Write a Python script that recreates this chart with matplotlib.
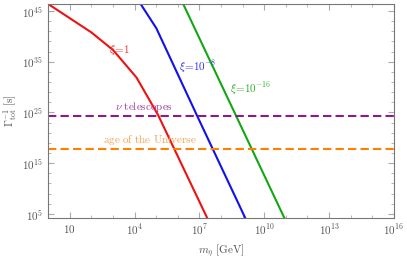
import numpy as np
import matplotlib.pyplot as plt
from matplotlib.ticker import FixedLocator, FixedFormatter

plt.rcParams["mathtext.fontset"] = "cm"
plt.rcParams["font.family"] = "DejaVu Serif"

# log10 of m_eta [GeV] and log10 of inverse width [s]
red_logm = [0.0, 2.0, 3.01, 4.09, 5.09, 7.36]
red_logt = [46.4, 40.8, 37.3, 31.9, 24.5, 4.2]
blue_logm = [4.25, 5.01, 6.9, 9.12]
blue_logt = [46.6, 41.6, 24.3, 4.2]
green_logm = [6.25, 10.93]
green_logt = [46.4, 4.2]

nu_telescopes = 2e24
age_universe = 5e17

gray = "#777777"
fig = plt.figure(figsize=(4.07, 2.61), dpi=100)
ax = fig.add_axes([0.118, 0.165, 0.850, 0.820])

ax.plot(10**np.array(red_logm), 10**np.array(red_logt), color="#ee1111", lw=1.5)
ax.plot(10**np.array(blue_logm), 10**np.array(blue_logt), color="#1111ee", lw=1.5)
ax.plot(10**np.array(green_logm), 10**np.array(green_logt), color="#11a811", lw=1.5)
ax.axhline(nu_telescopes, color="#8b1a8b", lw=1.5, ls=(0, (4, 2)))
ax.axhline(age_universe, color="#ff8000", lw=1.5, ls=(0, (4, 2)))

ax.set_xscale("log")
ax.set_yscale("log")
ax.set_xlim(1, 1e16)
ax.set_ylim(10**4.2, 10**46.4)

xmaj = [10.0**k for k in range(1, 17, 3)]
ax.xaxis.set_major_locator(FixedLocator(xmaj))
ax.xaxis.set_major_formatter(FixedFormatter(["$10$"] + [r"$10^{%d}$" % k for k in range(4, 17, 3)]))
ax.xaxis.set_minor_locator(FixedLocator([10.0**k for k in range(0, 17)]))
ymaj = [10.0**k for k in range(5, 46, 10)]
ax.yaxis.set_major_locator(FixedLocator(ymaj))
ax.yaxis.set_major_formatter(FixedFormatter([r"$10^{%d}$" % k for k in range(5, 46, 10)]))
ax.yaxis.set_minor_locator(FixedLocator([10.0**k for k in range(5, 47, 2)]))
ax.xaxis.set_minor_formatter(FixedFormatter([]))
ax.yaxis.set_minor_formatter(FixedFormatter([]))

ax.tick_params(which="both", direction="in", top=True, right=True, color="#aaaaaa",
               labelcolor="#555555", labelsize=8)
ax.tick_params(which="major", length=4)
ax.tick_params(which="minor", length=2)
for s in ax.spines.values():
    s.set_color(gray)

ax.set_xlabel(r"$m_\eta\ [\mathrm{GeV}]$", color="#555555", fontsize=8, labelpad=4)
ax.set_ylabel(r"$\Gamma^{-1}_{\mathrm{tot}}\ [\mathrm{s}]$", color="#555555", fontsize=8, labelpad=2)

ax.text(10**3.3, 10**37.4, r"$\xi\!=\!1$", color="#f03030", fontsize=8, ha="center", va="center")
ax.text(10**6.9, 10**34.1, r"$\xi\!=\!10^{-8}$", color="#3030f0", fontsize=8, ha="center", va="center")
ax.text(10**9.35, 10**29.7, r"$\xi\!=\!10^{-16}$", color="#30b030", fontsize=8, ha="center", va="center")
ax.text(10**4.45, 10**26.0, r"$\nu\ \mathrm{telescopes}$", color="#a040a0", fontsize=8, ha="center", va="center")
ax.text(10**4.7, 10**19.6, r"$\mathrm{age\ of\ the\ Universe}$", color="#f8a050", fontsize=8, ha="center", va="center")

fig.savefig("out.png", dpi=100)
